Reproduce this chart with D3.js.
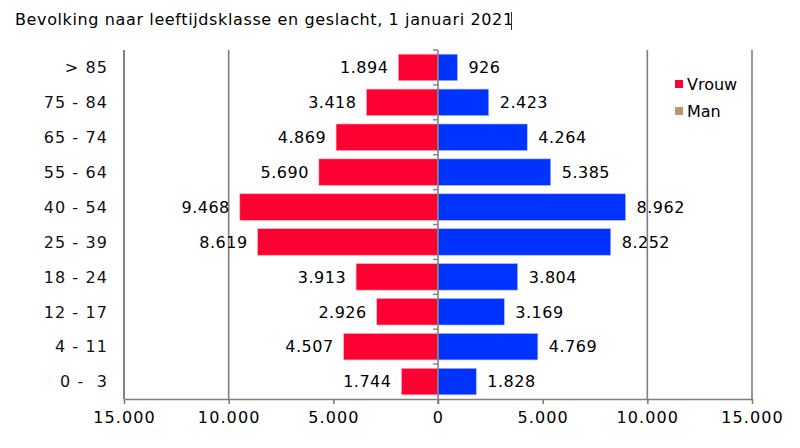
<!DOCTYPE html>
<html><head><meta charset="utf-8">
<script src="https://cdn.jsdelivr.net/npm/d3@7"></script>
<style>body{margin:0;background:#fff}svg{display:block}text{font-family:"DejaVu Sans",Verdana,sans-serif}</style>
</head><body><svg id="c" width="800" height="448"></svg>
<script>
const categories = ["> 85","75 - 84","65 - 74","55 - 64","40 - 54","25 - 39","18 - 24","12 - 17","4 - 11","0 -  3"];
const vrouw = [1894,3418,4869,5690,9468,8619,3913,2926,4507,1744];
const man = [926,2423,4264,5385,8962,8252,3804,3169,4769,1828];
const xTicks = [-15000,-10000,-5000,0,5000,10000,15000];
const gridTicks = [-15000,-10000,10000,15000];
const seriesNames = ["Vrouw","Man"];
const seriesColors = ["#ff0033","#b8966e"];

const svg = d3.select("#c");
const L=124,R=752,T=50,B=399;
const x = d3.scaleLinear().domain([-15000,15000]).range([L,R]);
const y = d3.scaleBand().domain(categories).range([T,B]).paddingInner(0.24).paddingOuter(0.12);
const yb = d3.scaleBand().domain(categories).range([T,B]);
const loc = d3.formatLocale({decimal:",",thousands:".",grouping:[3],currency:["€",""]});
const fmt = loc.format(",d");

svg.append("text").attr("x",15).attr("y",25).attr("font-size",16).attr("letter-spacing",0.62).attr("fill","#000")
  .text("Bevolking naar leeftijdsklasse en geslacht, 1 januari 2021");
svg.append("line").attr("x1",511.5).attr("x2",511.5).attr("y1",12).attr("y2",30).attr("stroke","#333").attr("stroke-width",1);

// gridlines
svg.append("g").selectAll("line").data(gridTicks).join("line")
  .attr("x1",d=>x(d)).attr("x2",d=>x(d)).attr("y1",T).attr("y2",B)
  .attr("stroke","#7f7f7f").attr("stroke-width",1.6);

// bars
svg.append("g").selectAll("rect").data(categories).join("rect")
  .attr("x",(d,i)=>x(-vrouw[i])).attr("width",(d,i)=>x(0)-x(-vrouw[i]))
  .attr("y",d=>y(d)).attr("height",y.bandwidth())
  .attr("fill","#ff0033").attr("stroke","#ffb0b8").attr("stroke-width",0.6);
svg.append("g").selectAll("rect").data(categories).join("rect")
  .attr("x",x(0)).attr("width",(d,i)=>x(man[i])-x(0))
  .attr("y",d=>y(d)).attr("height",y.bandwidth())
  .attr("fill","#0033ff").attr("stroke","#b0b8ff").attr("stroke-width",0.6);

// value labels
svg.append("g").selectAll("text").data(categories).join("text")
  .attr("x",(d,i)=>x(-vrouw[i])-10).attr("y",d=>y(d)+y.bandwidth()/2).attr("dy","0.36em")
  .attr("text-anchor","end").attr("font-size",16).attr("letter-spacing",0.5).text((d,i)=>fmt(vrouw[i]));
svg.append("g").selectAll("text").data(categories).join("text")
  .attr("x",(d,i)=>x(man[i])+11).attr("y",d=>y(d)+y.bandwidth()/2).attr("dy","0.36em")
  .attr("text-anchor","start").attr("font-size",16).attr("letter-spacing",0.5).text((d,i)=>fmt(man[i]));

// center axis
const cax = svg.append("g").attr("transform",`translate(${x(0)},0)`);
cax.append("line").attr("x1",0).attr("x2",0).attr("y1",T).attr("y2",B+5).attr("stroke","#7f7f7f").attr("stroke-width",1.6);
cax.selectAll("line.bt").data(categories).join("line").attr("class","bt")
  .attr("x1",-5).attr("x2",0).attr("y1",d=>yb(d)).attr("y2",d=>yb(d)).attr("stroke","#7f7f7f").attr("stroke-width",1.4);

// left axis line & category labels
svg.append("line").attr("x1",L).attr("x2",L).attr("y1",T).attr("y2",B).attr("stroke","#7f7f7f").attr("stroke-width",1.6);
svg.append("g").selectAll("text").data(categories).join("text")
  .attr("x",108).attr("y",d=>yb(d)+yb.bandwidth()/2).attr("dy","0.36em")
  .attr("text-anchor","end").attr("font-size",16).attr("letter-spacing",1.1).attr("fill","#111")
  .style("white-space","pre").text(d=>d);

// bottom axis
const bx = svg.append("g").attr("transform",`translate(0,${B})`)
  .call(d3.axisBottom(x).tickValues(xTicks).tickSize(5).tickSizeOuter(0).tickFormat(d=>fmt(Math.abs(d))));
bx.select(".domain").attr("stroke","#7f7f7f").attr("stroke-width",1.6);
bx.selectAll(".tick line").attr("stroke","#7f7f7f").attr("stroke-width",1.6);
bx.selectAll(".tick text").attr("font-size",16).attr("letter-spacing",1.1).attr("font-family","DejaVu Sans, Verdana, sans-serif").attr("fill","#000").attr("y",13);

// legend
const lg = svg.append("g");
seriesNames.forEach((n,i)=>{
  lg.append("rect").attr("x",675).attr("y",80+i*27).attr("width",8).attr("height",8).attr("fill",seriesColors[i]);
  lg.append("text").attr("x",687).attr("y",84+i*27).attr("dy","0.36em").attr("font-size",16).text(n);
});
</script></body></html>
